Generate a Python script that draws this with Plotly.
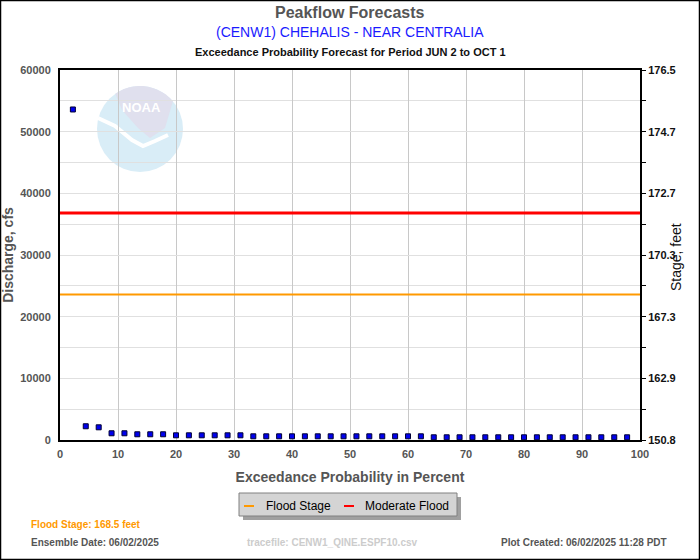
import plotly.graph_objects as go
import numpy as np

# ---------------- data ----------------
exceed_pct = [round(k * 100 / 45, 2) for k in range(1, 45)]
discharge_cfs = ([53600, 2230, 2060, 1090, 1090, 930, 930, 930]
                 + [760] * 6 + [600] * 14 + [440] * 16)
flood_stage_cfs = 23600
moderate_flood_cfs = 36800
left_tickvals = [0, 10000, 20000, 30000, 40000, 50000, 60000]
stage_tickvals = [0, 5000, 10000, 15000, 20000, 25000, 30000, 35000, 40000, 45000, 50000, 55000, 60000]
stage_ticktext = ["150.8", "", "162.9", "", "167.3", "", "170.3", "", "172.7", "", "174.7", "", "176.5"]
x_tickvals = [0, 10, 20, 30, 40, 50, 60, 70, 80, 90, 100]
legend_names = ["Flood Stage", "Moderate Flood"]
legend_colors = ["#ff9900", "#ff0000"]

W, H = 700, 560
ML, MR, MT, MB = 60, 60, 70, 120
PW, PH = W - ML - MR, H - MT - MB

def pxx(px):  # pixel -> paper x
    return (px - ML) / PW

def pxy(py):  # pixel -> paper y
    return (MT + PH - py) / PH

def dx(px):  # pixel -> data x
    return (px - ML) / PW * 100

def dy(py):  # pixel -> data y
    return (MT + PH - py) / PH * 60000

fig = go.Figure()

fig.add_trace(go.Scatter(
    x=[0, 100], y=[flood_stage_cfs, flood_stage_cfs], mode="lines",
    line=dict(color=legend_colors[0], width=2), name=legend_names[0], hoverinfo="skip"))
fig.add_trace(go.Scatter(
    x=[0, 100], y=[moderate_flood_cfs, moderate_flood_cfs], mode="lines",
    line=dict(color=legend_colors[1], width=3), name=legend_names[1], hoverinfo="skip"))
fig.add_trace(go.Scatter(
    x=exceed_pct, y=discharge_cfs, mode="markers",
    marker=dict(symbol="square", size=5, color="#0000ee",
                line=dict(color="#000033", width=1)),
    showlegend=False))
# invisible trace for right axis
fig.add_trace(go.Scatter(x=[None], y=[None], yaxis="y2", showlegend=False, hoverinfo="skip"))

shapes = []
# NOAA watermark
cx, cy, r = 140, 129, 43
shapes.append(dict(type="circle", xref="x", yref="y", layer="below",
                   x0=dx(cx - r), x1=dx(cx + r), y0=dy(cy + r), y1=dy(cy - r),
                   fillcolor="#d9edf7", line=dict(width=0)))
ang = np.linspace(np.radians(125), np.radians(40), 14)
pts = [(cx + r * np.cos(a), cy - r * np.sin(a)) for a in ang]
pts += [(165, 128), (150, 138), (138, 128), (122, 110)]
path = "M " + " L ".join(f"{dx(p[0]):.3f},{dy(p[1]):.1f}" for p in pts) + " Z"
shapes.append(dict(type="path", xref="x", yref="y", layer="below", path=path,
                   fillcolor="#e0e0ee", line=dict(width=0)))
bird = [(98, 118), (115, 126), (132, 140), (143, 146), (155, 141), (168, 135)]
bpath = "M " + " L ".join(f"{dx(p[0]):.3f},{dy(p[1]):.1f}" for p in bird)
shapes.append(dict(type="path", xref="x", yref="y", layer="below", path=bpath,
                   line=dict(color="white", width=4)))

# legend (drawn manually to match compact style)
LX0, LX1, LY0, LY1 = 239, 457, 493, 516
shapes.append(dict(type="rect", xref="paper", yref="paper",
                   x0=pxx(LX0 + 4), x1=pxx(LX1 + 4), y0=pxy(LY1 + 4), y1=pxy(LY0 + 4),
                   fillcolor="#a0a0a0", line=dict(width=0)))
shapes.append(dict(type="rect", xref="paper", yref="paper",
                   x0=pxx(LX0), x1=pxx(LX1), y0=pxy(LY1), y1=pxy(LY0),
                   fillcolor="#d4d4d4", line=dict(color="#808080", width=1)))
leg_sym_x = [244, 344]
leg_txt_x = [264, 363]
for i in range(2):
    shapes.append(dict(type="line", xref="paper", yref="paper",
                       x0=pxx(leg_sym_x[i]), x1=pxx(leg_sym_x[i] + 10),
                       y0=pxy(506), y1=pxy(506),
                       line=dict(color=legend_colors[i], width=2)))

# outer frame
shapes.append(dict(type="rect", xref="paper", yref="paper",
                   x0=pxx(0.5), x1=pxx(699.5), y0=pxy(559.5), y1=pxy(0.5),
                   line=dict(color="black", width=1.5)))
fig.update_layout(shapes=shapes)

ann = []
def A(text, x, y, size, color, bold=True, xanchor="center", family="Liberation Sans, Arial",
      angle=0):
    ann.append(dict(text=f"<b>{text}</b>" if bold else text, x=pxx(x), y=pxy(y),
                    xref="paper", yref="paper", showarrow=False, xanchor=xanchor,
                    yanchor="middle", textangle=angle,
                    font=dict(size=size, color=color, family=family)))

A("Peakflow Forecasts", 350, 12, 16, "#555555")
A("(CENW1) CHEHALIS - NEAR CENTRALIA", 350, 32, 14, "#1a1aff", bold=False)
A("Exceedance Probability Forecast for Period JUN 2 to OCT 1", 350, 52, 11, "#111111")
A("NOAA", 141, 108, 13, "white")
A("Stage, feet", 676, 257, 14, "#111111", bold=False, angle=-90)
for i in range(2):
    A(legend_names[i], leg_txt_x[i], 506, 12, "black", bold=False, xanchor="left",
      family="Liberation Sans, Arial")
A("Flood Stage: 168.5 feet", 29, 524, 10, "#ff9900", xanchor="left")
A("Ensemble Date: 06/02/2025", 29, 542, 10, "#555555", xanchor="left")
A("tracefile: CENW1_QINE.ESPF10.csv", 245, 542, 10, "#cccccc", xanchor="left")
A("Plot Created: 06/02/2025 11:28 PDT", 499, 542, 10, "#555555", xanchor="left")
fig.update_layout(annotations=ann)

tickfont = dict(family="Liberation Sans, Arial", size=11, color="#555555", weight="bold")
fig.update_layout(
    width=W, height=H,
    margin=dict(l=ML, r=MR, t=MT, b=MB, autoexpand=False),
    paper_bgcolor="white", plot_bgcolor="white",
    showlegend=False,
    xaxis=dict(range=[0, 100], tickvals=x_tickvals, showgrid=True, gridcolor="#c8c8c8",
               gridwidth=1, zeroline=False, showline=True, linecolor="black", linewidth=2,
               mirror=True, ticks="", tickfont=tickfont, ticklabelstandoff=3,
               title=dict(text="<b>Exceedance Probability in Percent</b>",
                          font=dict(family="Liberation Sans, Arial", size=14, color="#555555"),
                          standoff=13)),
    yaxis=dict(range=[0, 60000], tickvals=left_tickvals, tickformat="d", showgrid=True,
               gridcolor="#e0e0e0",
               zeroline=False, showline=True, linecolor="black", linewidth=2, mirror=True,
               ticks="", tickfont=tickfont, ticklabelstandoff=5,
               minor=dict(dtick=5000, showgrid=True, gridcolor="#e0e0e0", ticks=""),
               title=dict(text="<b>Discharge, cfs</b>",
                          font=dict(family="Liberation Sans, Arial", size=14, color="#555555"),
                          standoff=4)),
    yaxis2=dict(range=[0, 60000], overlaying="y", side="right", tickvals=stage_tickvals,
                ticktext=stage_ticktext, showgrid=False, zeroline=False, showline=True,
                linecolor="black", linewidth=1, ticks="outside", ticklen=5,
                tickcolor="black",
                tickfont=dict(family="Liberation Sans, Arial", size=11, color="#111111",
                              weight="bold")),
)

fig.write_html("out.html", config={"displayModeBar": False},
               post_script="document.body.style.margin='0';document.body.style.padding='0';")
